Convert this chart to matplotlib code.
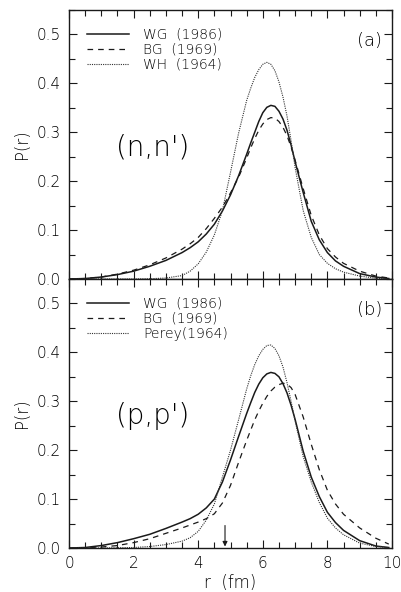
import matplotlib
matplotlib.use("Agg")
import matplotlib.pyplot as plt
from matplotlib.ticker import MultipleLocator

# ---------------- data ----------------
r = [0.0, 0.5, 1.0, 1.5, 2.0, 2.5, 3.0, 3.5, 3.75, 4.0, 4.25, 4.5, 4.75,
     5.0, 5.25, 5.5, 5.625, 5.75, 5.875, 6.0, 6.125, 6.25, 6.375, 6.5,
     6.625, 6.75, 6.875, 7.0, 7.25, 7.5, 7.75, 8.0, 8.25, 8.5, 9.0, 9.5, 9.9]

# panel (a): (n,n')
a_wg = [0.0, 0.001, 0.004, 0.009, 0.016, 0.026, 0.038, 0.054, 0.064, 0.076,
        0.092, 0.112, 0.139, 0.172, 0.211, 0.255, 0.278, 0.300, 0.322, 0.340,
        0.351, 0.355, 0.353, 0.343, 0.327, 0.304, 0.274, 0.240, 0.177, 0.118,
        0.080, 0.054, 0.037, 0.026, 0.011, 0.004, 0.001]
a_bg = [0.0, 0.001, 0.004, 0.010, 0.018, 0.029, 0.043, 0.061, 0.072, 0.085,
        0.103, 0.124, 0.147, 0.176, 0.208, 0.247, 0.268, 0.287, 0.304, 0.317,
        0.326, 0.330, 0.329, 0.322, 0.310, 0.293, 0.270, 0.243, 0.185, 0.130,
        0.090, 0.062, 0.045, 0.032, 0.016, 0.006, 0.002]
a_wh = [0.0, 0.0, 0.0, 0.0, 0.0, 0.0005, 0.002, 0.007, 0.016, 0.031,
        0.055, 0.090, 0.140, 0.218, 0.298, 0.365, 0.390, 0.412, 0.428, 0.439,
        0.443, 0.439, 0.426, 0.403, 0.372, 0.333, 0.283, 0.228, 0.140, 0.085,
        0.050, 0.032, 0.021, 0.014, 0.006, 0.0015, 0.0005]

# panel (b): (p,p')
b_wg = [0.0, 0.001, 0.005, 0.011, 0.019, 0.028, 0.040, 0.053, 0.060, 0.069,
        0.082, 0.100, 0.135, 0.180, 0.228, 0.275, 0.297, 0.318, 0.335, 0.348,
        0.356, 0.359, 0.357, 0.350, 0.336, 0.317, 0.292, 0.263, 0.198, 0.145,
        0.105, 0.073, 0.052, 0.036, 0.015, 0.004, 0.001]
b_bg = [0.0, 0.0005, 0.002, 0.005, 0.011, 0.019, 0.030, 0.041, 0.047, 0.053,
        0.060, 0.070, 0.092, 0.128, 0.175, 0.220, 0.241, 0.262, 0.280, 0.296,
        0.310, 0.321, 0.329, 0.334, 0.337, 0.335, 0.328, 0.314, 0.268, 0.212,
        0.160, 0.118, 0.090, 0.069, 0.041, 0.020, 0.008]
b_perey = [0.0, 0.0, 0.0, 0.0005, 0.001, 0.003, 0.007, 0.014, 0.021, 0.034,
           0.057, 0.090, 0.145, 0.200, 0.262, 0.325, 0.352, 0.375, 0.393, 0.406,
           0.414, 0.415, 0.408, 0.393, 0.370, 0.338, 0.300, 0.260, 0.187, 0.135,
           0.093, 0.061, 0.041, 0.027, 0.010, 0.003, 0.001]

labels_a = ["WG  (1986)", "BG  (1969)", "WH  (1964)"]
labels_b = ["WG  (1986)", "BG  (1969)", "Perey(1964)"]
arrow_r = 4.83

# ---------------- figure ----------------
plt.rcParams['font.family'] = ['DejaVu Sans']
plt.rcParams['font.weight'] = 'light'
plt.rcParams['axes.labelweight'] = 'light'
fig = plt.figure(figsize=(4.01, 5.92), dpi=100)
W, H = 401, 592
left, right = 69, 392
ax_a = fig.add_axes([left / W, 1 - 279 / H, (right - left) / W, 269 / H])
ax_b = fig.add_axes([left / W, 1 - 548 / H, (right - left) / W, 269 / H])

col = '#1a1a1a'
tcol = '#000000'
styles = [dict(ls='-', lw=1.1, color=col),
          dict(ls=(0, (4.5, 4.0)), lw=0.9, color=col),
          dict(ls=(0, (1.0, 1.0)), lw=0.8, color='#333333')]

def setup(ax, series, labels, tag, probe):
    for y, lab, st in zip(series, labels, styles):
        ax.plot(r, y, label=lab, **st)
    ax.set_xlim(0, 10)
    ax.set_ylim(0, 0.55)
    ax.xaxis.set_major_locator(MultipleLocator(2))
    ax.xaxis.set_minor_locator(MultipleLocator(0.5))
    ax.yaxis.set_major_locator(MultipleLocator(0.1))
    ax.yaxis.set_minor_locator(MultipleLocator(0.05))
    ax.tick_params(which='both', direction='in', top=True, right=True,
                   width=0.8, labelsize=11, color=col, labelcolor=tcol)
    ax.tick_params(which='major', length=6, pad=6)
    ax.tick_params(which='minor', length=4)
    ax.set_yticks([0, 0.1, 0.2, 0.3, 0.4, 0.5])
    ax.set_yticklabels(['0.0', '0.1', '0.2', '0.3', '0.4', '0.5'])
    for s in ax.spines.values():
        s.set_linewidth(1.0)
        s.set_color(col)
    ax.set_ylabel('P(r)', fontsize=12, labelpad=4, color=tcol)
    leg = ax.legend(loc='upper left', bbox_to_anchor=(0.057, 0.935),
                    frameon=False, fontsize=10, handlelength=3.0,
                    handletextpad=1.0, labelspacing=0.08, borderpad=0,
                    borderaxespad=0)
    for t in leg.get_texts():
        t.set_color(tcol)
    ax.text(0.97, 0.883, tag, transform=ax.transAxes, ha='right', va='center',
            fontsize=13, color=tcol)
    ax.text(0.144, 0.49, probe, transform=ax.transAxes, ha='left', va='center',
            fontsize=20, color=tcol)

setup(ax_a, [a_wg, a_bg, a_wh], labels_a, '(a)', "(n,n')")
setup(ax_b, [b_wg, b_bg, b_perey], labels_b, '(b)', "(p,p')")

ax_a.tick_params(labelbottom=False)
ax_b.set_xticks([0, 2, 4, 6, 8, 10])
ax_b.set_xlabel('r  (fm)', fontsize=12, labelpad=2, color=tcol)

ax_b.annotate('', xy=(arrow_r, 0.003), xytext=(arrow_r, 0.046),
              arrowprops=dict(arrowstyle='-|>', color=col, lw=0.8,
                              mutation_scale=7, shrinkA=0, shrinkB=0))

fig.savefig('out.png', dpi=100)
